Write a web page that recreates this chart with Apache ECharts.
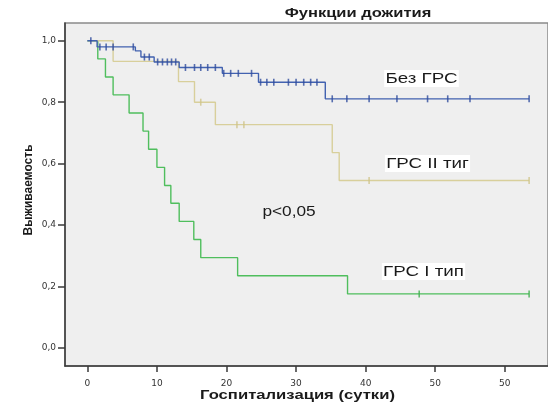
<!DOCTYPE html>
<html>
<head>
<meta charset="utf-8">
<script src="https://cdn.jsdelivr.net/npm/echarts@6/dist/echarts.min.js"></script>
<style>
html,body{margin:0;padding:0;background:#fff;}
#chart{width:548px;height:408px;}
</style>
</head>
<body>
<div id="chart"></div>
<script>
// ---- Data ----
const xTicks = [0, 10, 20, 30, 40, 50, 60];
const xTickLabels = ['0', '10', '20', '30', '40', '50', '50'];
const yTicks = [0, 0.2, 0.4, 0.6, 0.8, 1.0];
const yTickLabels = ['0,0', '0,2', '0,4', '0,6', '0,8', '1,0'];

// Без ГРС
const blueTimes = [0, 1.4, 6.9, 7.7, 9.6, 13.2, 19.4, 24.6, 34.2];
const blueSurv  = [1.0, 0.98, 0.967, 0.947, 0.931, 0.913, 0.894, 0.865, 0.811];
const blueCensored = [0.5, 1.8, 2.7, 3.7, 6.6, 8.2, 8.9, 10.1, 10.8, 11.5, 12.1, 12.7,
  14.1, 15.4, 16.3, 17.3, 18.4, 19.6, 20.6, 21.7, 23.6, 24.9, 25.8, 26.8, 28.9, 30.0,
  31.1, 32.1, 33.0, 35.2, 37.3, 40.5, 44.5, 48.9, 51.8, 55.0, 63.5];
const blueEnd = 63.5;

// ГРС II тип
const yellowTimes = [0, 3.7, 13.1, 15.4, 18.4, 35.2, 36.2];
const yellowSurv  = [1.0, 0.933, 0.867, 0.8, 0.727, 0.636, 0.545];
const yellowCensored = [16.3, 21.5, 22.5, 40.5, 63.5];
const yellowEnd = 63.5;

// ГРС I тип
const greenTimes = [0, 1.5, 2.6, 3.7, 6.0, 8.0, 8.8, 10.0, 11.1, 12.0, 13.2, 15.3, 16.3, 21.6, 37.4];
const greenSurv  = [1.0, 0.941, 0.882, 0.824, 0.765, 0.706, 0.647, 0.588, 0.529, 0.471, 0.412, 0.353, 0.294, 0.235, 0.176];
const greenCensored = [47.7, 63.5];
const greenEnd = 63.5;

const seriesNames = ['Без ГРС', 'ГРС II тиг', 'ГРС I тип'];
const titleText = 'Функции дожития';
const xAxisTitle = 'Госпитализация (сутки)';
const yAxisTitle = 'Выживаемость';
const pText = 'p<0,05';

// ---- helpers ----
function stepData(times, surv, end) {
  const d = times.map((t, i) => [t, surv[i]]);
  d.push([end, surv[surv.length - 1]]);
  return d;
}
function survAt(times, surv, t) {
  let v = surv[0];
  for (let i = 0; i < times.length; i++) { if (times[i] <= t) v = surv[i]; }
  return v;
}
function censorData(times, surv, cens) {
  return cens.map(t => [t, survAt(times, surv, t)]);
}

const colors = { blue: '#4262b0', blueMark: '#2f4c9e', yellow: '#d8cf9b', yellowMark: '#cfc489', green: '#4fbe5d', greenMark: '#3fae4d' };

const chart = echarts.init(document.getElementById('chart'), null, { renderer: 'canvas' });

function lineSeries(name, data, color, z) {
  return { name, type: 'line', step: 'end', data, symbol: 'none', z,
    lineStyle: { color, width: 1.4 }, animation: false, silent: true };
}
function censorSeries(name, data, color, z) {
  return { name: name + ' (цензур.)', type: 'scatter', data, symbol: 'rect', symbolSize: [1.6, 7], z,
    itemStyle: { color }, animation: false, silent: true };
}

function labelText(text, x, y, opts) {
  opts = opts || {};
  return {
    type: 'text', x, y, scaleX: opts.scaleX || 1.25, z: 100,
    style: {
      text, x: 0, y: 0, align: 'center', verticalAlign: 'middle',
      font: (opts.weight || 'normal') + ' ' + (opts.size || 15) + 'px "Liberation Sans", Arial, sans-serif',
      fill: opts.color || '#1a1a1a',
      backgroundColor: opts.bg || null,
      padding: opts.bg ? [1, 1, 1, 1] : 0
    }
  };
}

chart.setOption({
  animation: false,
  backgroundColor: '#ffffff',
  grid: { left: 65, top: 23, right: -3, bottom: 42, show: true, backgroundColor: '#efefef', borderColor: '#8a8a8a', borderWidth: 1.5 },
  xAxis: {
    type: 'value', min: (65 - 87.5) / 7, max: (551 - 87.5) / 7,
    axisLine: { show: true, onZero: false, lineStyle: { color: '#3a3a3a', width: 1.5 } },
    axisTick: { show: true, length: 6, customValues: xTicks, lineStyle: { color: '#3a3a3a', width: 1.5 } },
    axisLabel: { customValues: xTicks, margin: 13, fontSize: 9, fontFamily: 'DejaVu Sans', color: '#333',
      formatter: v => { const i = xTicks.indexOf(Math.round(v)); return i >= 0 ? xTickLabels[i] : ''; } },
    splitLine: { show: false }
  },
  yAxis: {
    type: 'value', min: -0.0586, max: 1.0578,
    axisLine: { show: true, onZero: false, lineStyle: { color: '#3a3a3a', width: 1.5 } },
    axisTick: { show: true, length: 7, customValues: yTicks, lineStyle: { color: '#3a3a3a', width: 1.5 } },
    axisLabel: { customValues: yTicks, margin: 9, fontSize: 9, fontFamily: 'DejaVu Sans', color: '#333',
      formatter: v => { const i = yTicks.findIndex(t => Math.abs(t - v) < 1e-6); return i >= 0 ? yTickLabels[i] : ''; } },
    splitLine: { show: false }
  },
  series: [
    lineSeries(seriesNames[2], stepData(greenTimes, greenSurv, greenEnd), colors.green, 2),
    lineSeries(seriesNames[1], stepData(yellowTimes, yellowSurv, yellowEnd), colors.yellow, 3),
    lineSeries(seriesNames[0], stepData(blueTimes, blueSurv, blueEnd), colors.blue, 4),
    censorSeries(seriesNames[2], censorData(greenTimes, greenSurv, greenCensored), colors.greenMark, 5),
    censorSeries(seriesNames[1], censorData(yellowTimes, yellowSurv, yellowCensored), colors.yellowMark, 5),
    censorSeries(seriesNames[0], censorData(blueTimes, blueSurv, blueCensored), colors.blueMark, 6)
  ],
  graphic: [
    labelText(titleText, 358, 13, { size: 13, weight: 'bold', scaleX: 1.27 }),
    labelText(seriesNames[0], 421.5, 78.5, { bg: '#ffffff' }),
    labelText(seriesNames[1], 427.5, 163.5, { bg: '#ffffff' }),
    labelText(seriesNames[2], 423.5, 271.5, { bg: '#ffffff' }),
    labelText(pText, 289, 211.5, { scaleX: 1.15 }),
    labelText(xAxisTitle, 297.5, 395, { size: 13, weight: 'bold', scaleX: 1.28 }),
    {
      type: 'text', x: 29, y: 190, rotation: Math.PI / 2, z: 100,
      style: { text: yAxisTitle, x: 0, y: 0, align: 'center', verticalAlign: 'middle',
        font: 'bold 12px "Liberation Sans", Arial, sans-serif', fill: '#1a1a1a' }
    }
  ]
});
</script>
</body>
</html>
